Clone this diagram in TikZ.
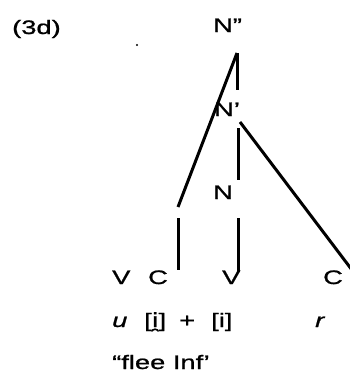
\documentclass[tikz,border=0pt]{standalone}
\usepackage{fontspec}
\setmainfont[FakeStretch=1.4,FakeBold=1]{Liberation Sans}
\newfontfamily\dvfont[FakeStretch=1.25,FakeBold=1]{DejaVu Sans}
\begin{document}
\begin{tikzpicture}[x=1pt,y=-1pt,
  lab/.style={inner sep=0pt,anchor=base west,font=\fontsize{19.5}{22}\selectfont},
  br/.style={line width=3pt,line cap=butt}]
\useasboundingbox (0,0) rectangle (350,376);
\node[lab] (ex) at (12,34) {(3d)};
\fill (137,45) circle (1.1pt);
\node[lab] (nbar2) at (213,32) {N"};
\node[lab] (nbar1) at (214,116) {N'};
\node[lab] (n) at (213,199) {N};
\node[lab] (v1) at (112,284) {V};
\node[lab] (c1) at (148,284) {C};
\node[lab] (v2) at (222,284) {V};
\node[lab] (c2) at (323,284) {C};
\node[lab] (u) at (112,327) {\itshape u};
\node[lab] (j) at (144,327) {[{\dvfont i̯}]};
\node[lab] (plus) at (179,327) {+};
\node[lab] (i) at (211,327) {[i]};
\node[lab] (r) at (315,327) {\itshape r};
\node[lab] (gloss) at (112,369) {“flee Inf’};
\coordinate (top) at (237,53);
\coordinate (topv) at (237,90);
\coordinate (lft) at (178,207);
\coordinate (nb1a) at (238,128);
\coordinate (nb1b) at (238,180);
\coordinate (rt0) at (240,122);
\coordinate (rt1) at (352,270);
\coordinate (na) at (238,218);
\coordinate (nb) at (238,272);
\coordinate (la) at (178,218);
\coordinate (lb) at (178,270);
\draw[br] (top) -- (lft);
\draw[br] (top) -- (topv);
\draw[br] (nb1a) -- (nb1b);
\draw[br] (rt0) -- (rt1);
\draw[br] (na) -- (nb);
\draw[br] (la) -- (lb);
\end{tikzpicture}
\end{document}
